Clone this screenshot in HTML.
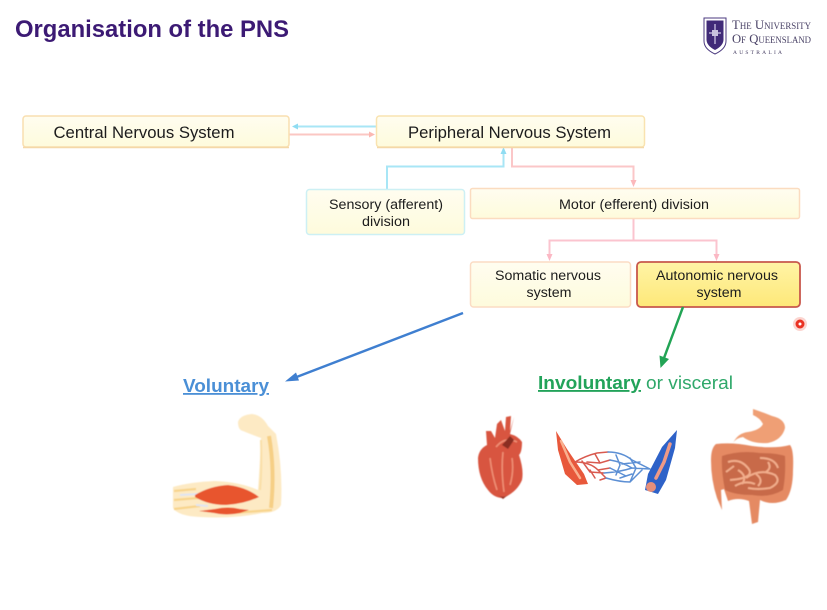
<!DOCTYPE html>
<html lang="en">
<head>
<meta charset="utf-8">
<title>Organisation of the PNS</title>
<style>
html,body{margin:0;padding:0;background:#fff;width:827px;height:610px;overflow:hidden}
svg{display:block}
text{font-family:"Liberation Sans",Arial,sans-serif}
.box{font-size:13.500px;fill:#1c1c1c;text-anchor:middle}
.big{font-size:16.500px;fill:#1c1c1c;text-anchor:middle}
.serif{font-family:"Liberation Serif",serif;font-variant:small-caps;fill:#4a4266}
</style>
</head>
<body>
<svg width="827" height="610" viewBox="0 0 827 610" xmlns="http://www.w3.org/2000/svg">
<defs>
<linearGradient id="cream" x1="0" y1="0" x2="0" y2="1"><stop offset="0" stop-color="#fffdf0"/><stop offset="1" stop-color="#fefbdc"/></linearGradient>
<linearGradient id="yel" x1="0" y1="0" x2="0" y2="1"><stop offset="0" stop-color="#fff4a6"/><stop offset="1" stop-color="#fee878"/></linearGradient>
<filter id="b" x="-10%" y="-10%" width="120%" height="120%"><feGaussianBlur stdDeviation="0.6"/></filter>
<filter id="s" x="-10%" y="-10%" width="120%" height="120%"><feGaussianBlur stdDeviation="0.35"/></filter>
</defs>
<rect width="827" height="610" fill="#fff"/>

<text x="15" y="37" font-size="24" font-weight="700" fill="#3c1a74" textLength="274" lengthAdjust="spacingAndGlyphs">Organisation of the PNS</text>

<!-- logo -->
<path d="M704 18H726V41Q726 49 715 54Q704 49 704 41Z" fill="#fff" stroke="#4b3a7f" stroke-width="1"/>
<path d="M706.500 20.500H723.500V40Q723 46 715 50Q707 46 706.500 40Z" fill="#3f2a78" filter="url(#s)"/>
<path d="M715 24V44M709 33H721" stroke="#b9b0d6" stroke-width="1.500"/>
<rect x="712" y="30" width="6" height="6" fill="#c8c2de"/>
<g filter="url(#s)">
<text class="serif" x="732" y="29" font-size="13" textLength="79" lengthAdjust="spacingAndGlyphs">The University</text>
<text class="serif" x="732" y="43" font-size="13" textLength="79" lengthAdjust="spacingAndGlyphs">Of Queensland</text>
<text x="733" y="54" font-size="5.500" textLength="49" style="font-family:'Liberation Serif',serif;fill:#4a4266">AUSTRALIA</text>
</g>

<!-- connectors -->
<g fill="none" stroke-width="2">
<path d="M376 126.500H296" stroke="#a8e6f6"/>
<path d="M289 134.500H371" stroke="#fbc7c3"/>
<path d="M387 189V166.500H503.500V152" stroke="#a8e6f6"/>
<path d="M512 148V166.500H633.500V182" stroke="#fbc7c8"/>
<path d="M633.500 219V240.500M549.500 257V240.500H716.500V257" stroke="#fbc4cf"/>
</g>
<g>
<path d="M292 126.500L298 123.500V129.500Z" fill="#8fdcf2"/>
<path d="M375 134.500L369 131.500V137.500Z" fill="#fbb8b2"/>
<path d="M503.500 147L500.500 154H506.500Z" fill="#8fdcf2"/>
<path d="M633.500 187L630.500 180H636.500Z" fill="#fbb8bb"/>
<path d="M549.500 261L546.500 254H552.500Z" fill="#fbb8c4"/>
<path d="M716.500 261L713.500 254H719.500Z" fill="#fbb8c4"/>
</g>

<!-- boxes -->
<rect x="23" y="116" width="266" height="31" rx="3" fill="url(#cream)" stroke="#f9dfb0" stroke-width="1.500"/>
<path d="M23 147.500H289" stroke="#f4d8a8" stroke-width="1.500"/>
<rect x="376.500" y="116" width="268" height="31" rx="3" fill="url(#cream)" stroke="#f9e3b0" stroke-width="1.500"/>
<path d="M377 147.500H644" stroke="#f4d8a8" stroke-width="1.500"/>
<rect x="306.500" y="189.500" width="158" height="45" rx="3" fill="url(#cream)" stroke="#cdf0f4" stroke-width="1.500"/>
<rect x="470.500" y="188.500" width="329" height="30" rx="2" fill="url(#cream)" stroke="#fbdcc0" stroke-width="1.500"/>
<rect x="470.500" y="262" width="160" height="45" rx="3" fill="url(#cream)" stroke="#fbdcc4" stroke-width="1.500"/>
<rect x="637" y="262" width="163" height="45" rx="4" fill="url(#yel)" stroke="#c8584c" stroke-width="1.800"/>

<text class="big" x="144" y="138" textLength="181" lengthAdjust="spacingAndGlyphs">Central Nervous System</text>
<text class="big" x="509.500" y="138" textLength="203" lengthAdjust="spacingAndGlyphs">Peripheral Nervous System</text>
<text class="box" x="386" y="209" textLength="114" lengthAdjust="spacingAndGlyphs">Sensory (afferent)</text>
<text class="box" x="386" y="226" textLength="48" lengthAdjust="spacingAndGlyphs">division</text>
<text class="box" x="634" y="209" textLength="150" lengthAdjust="spacingAndGlyphs">Motor (efferent) division</text>
<text class="box" x="548" y="280" textLength="106" lengthAdjust="spacingAndGlyphs">Somatic nervous</text>
<text class="box" x="549" y="297" textLength="45" lengthAdjust="spacingAndGlyphs">system</text>
<text class="box" x="717" y="280" textLength="122" lengthAdjust="spacingAndGlyphs">Autonomic nervous</text>
<text class="box" x="719" y="297" textLength="45" lengthAdjust="spacingAndGlyphs">system</text>

<!-- large arrows -->
<path d="M463 313L294 378" stroke="#3f7fd0" stroke-width="2.500" fill="none"/>
<path d="M285 381.500L296 372.500L299 380.500Z" fill="#3f7fd0"/>
<path d="M683 307L664 358" stroke="#22a455" stroke-width="2.500" fill="none"/>
<path d="M660.500 368L659.500 355.500L669 359Z" fill="#22a455"/>

<text x="183" y="392" font-size="18" font-weight="700" fill="#4a8fd6" text-decoration="underline" textLength="86" lengthAdjust="spacingAndGlyphs">Voluntary</text>
<text x="538" y="389" font-size="18.500" font-weight="700" fill="#22a35a" text-decoration="underline" textLength="103" lengthAdjust="spacingAndGlyphs">Involuntary</text>
<text x="646" y="389" font-size="18.500" fill="#2fa86a" textLength="87" lengthAdjust="spacingAndGlyphs">or visceral</text>

<!-- arm -->
<g filter="url(#b)">
<path d="M238 422Q240 415 252 414Q262 415 268 426L276 434Q283 470 281 505Q277 513 262 513Q235 519 200 517Q178 516 173 508V487Q190 482 215 481Q240 482 258 490Q260 462 261 438Q250 434 243 431Q238 430 238 422Z" fill="#fdeac4"/>
<path d="M269 436Q275 470 271 508" stroke="#f6cf85" stroke-width="4" fill="none"/>
<path d="M261 440Q262 470 260 490" stroke="#f9dfa8" stroke-width="2" fill="none"/>
<path d="M174 491L196 489M174 500L198 498M174 509L200 506M232 513L272 510" stroke="#f8d48c" stroke-width="2.200" fill="none"/>
<path d="M180 495L198 494M196 505L208 506" stroke="#dfe4f2" stroke-width="2" fill="none"/>
<path d="M195 495Q210 486 228 485Q246 487 259 497Q244 504 226 505Q208 505 195 497Z" fill="#e8552d"/>
<path d="M199 511L215 509Q228 506 240 509L249 510L240 513Q226 516 214 513Z" fill="#e8552d"/>
</g>

<!-- heart -->
<g filter="url(#b)">
<path d="M497 424L501 420L505 431L506 417L511 416L510 431L514 417L510 434Q518 436 522 442Q522 452 519 455Q524 470 522 480Q517 492 503 498Q494 498 488 490Q478 478 478 458Q479 449 487 445L486 431L491 431L495 438Z" fill="#d8553f"/>
<path d="M496 447Q505 436 517 442M503 452Q501 470 504 492M490 458Q492 475 497 490M512 458Q514 472 510 485" stroke="#ee8f75" stroke-width="1.600" fill="none"/>
<path d="M502 445L510 436L514 440L508 449Z" fill="#8a2d24"/>
<path d="M497 494Q502 499 508 495L503 499Z" fill="#8f3226"/>
</g>

<!-- vessels -->
<g filter="url(#s)" fill="none" stroke-linecap="round">
<path d="M556 431L567 449L584 474L588 484L577 485L565 474L558 450Z" fill="#e8593a" stroke="none"/>
<path d="M561 441L570 462L580 478" stroke="#f9b08f" stroke-width="2.500"/>
<g stroke="#d95a50" stroke-width="1.500">
<path d="M575 462Q585 456 597 453L608 452M575 462Q590 462 598 470L606 478M582 461L590 472L604 473M595 454L600 463L610 460M590 470L595 478M587 462L600 463M598 470L610 468M600 480L606 478"/>
</g>
<g stroke="#5b8fd4" stroke-width="1.500">
<path d="M608 452Q622 452 632 460L650 469M606 478Q620 482 630 482L642 470M604 473Q620 472 632 468L650 469M610 460Q622 462 632 468M616 455L620 465L616 475M630 458L636 468L630 482M622 464L640 462M610 468L626 476M620 478L632 474"/>
</g>
<path d="M677 430L675 448L666 480L658 494L645 490L648 474L662 447Z" fill="#2d62c8" stroke="none"/>
<path d="M670 444L664 462L656 478" stroke="#ef9a86" stroke-width="3.500"/>
<circle cx="651" cy="487" r="5" fill="#e68f7a" stroke="none"/>
</g>

<!-- intestines -->
<g filter="url(#b)">
<path d="M753 409Q762 412 772 416Q785 419 785 428Q782 440 768 443Q752 444 743 437Q736 438 733 443Q738 433 748 432Q760 430 763 424Q760 418 753 415Z" fill="#ef9f74"/>
<path d="M716 444Q732 442 752 446Q775 449 790 445Q794 450 793 470Q793 490 786 500Q772 506 760 500L758 522L752 524L749 501Q738 497 728 501L724 489L721 490L722 510L717 498Q711 480 711 460Q711 448 716 444Z" fill="#e58a63"/>
<path d="M722 456Q740 450 760 453Q776 453 785 456Q786 475 783 490Q770 498 752 495Q735 495 725 490Q721 470 722 456Z" fill="#c86a4a"/>
<path d="M728 462Q740 458 748 468T730 480M746 478Q760 468 775 475Q782 482 770 488Q758 490 748 488M760 458Q775 458 778 468M735 486Q745 480 755 484M738 470Q748 476 742 484M756 474Q764 480 758 486M726 472L734 466M768 462Q772 468 766 472" stroke="#f2ae8c" stroke-width="2" fill="none"/>
</g>

<!-- pointer dot -->
<circle cx="800" cy="324" r="7" fill="#fbd5d0" filter="url(#s)"/>
<circle cx="800" cy="324" r="4.500" fill="#ea3223"/>
<circle cx="800" cy="324" r="1.500" fill="#fff"/>
</svg>
</body>
</html>
